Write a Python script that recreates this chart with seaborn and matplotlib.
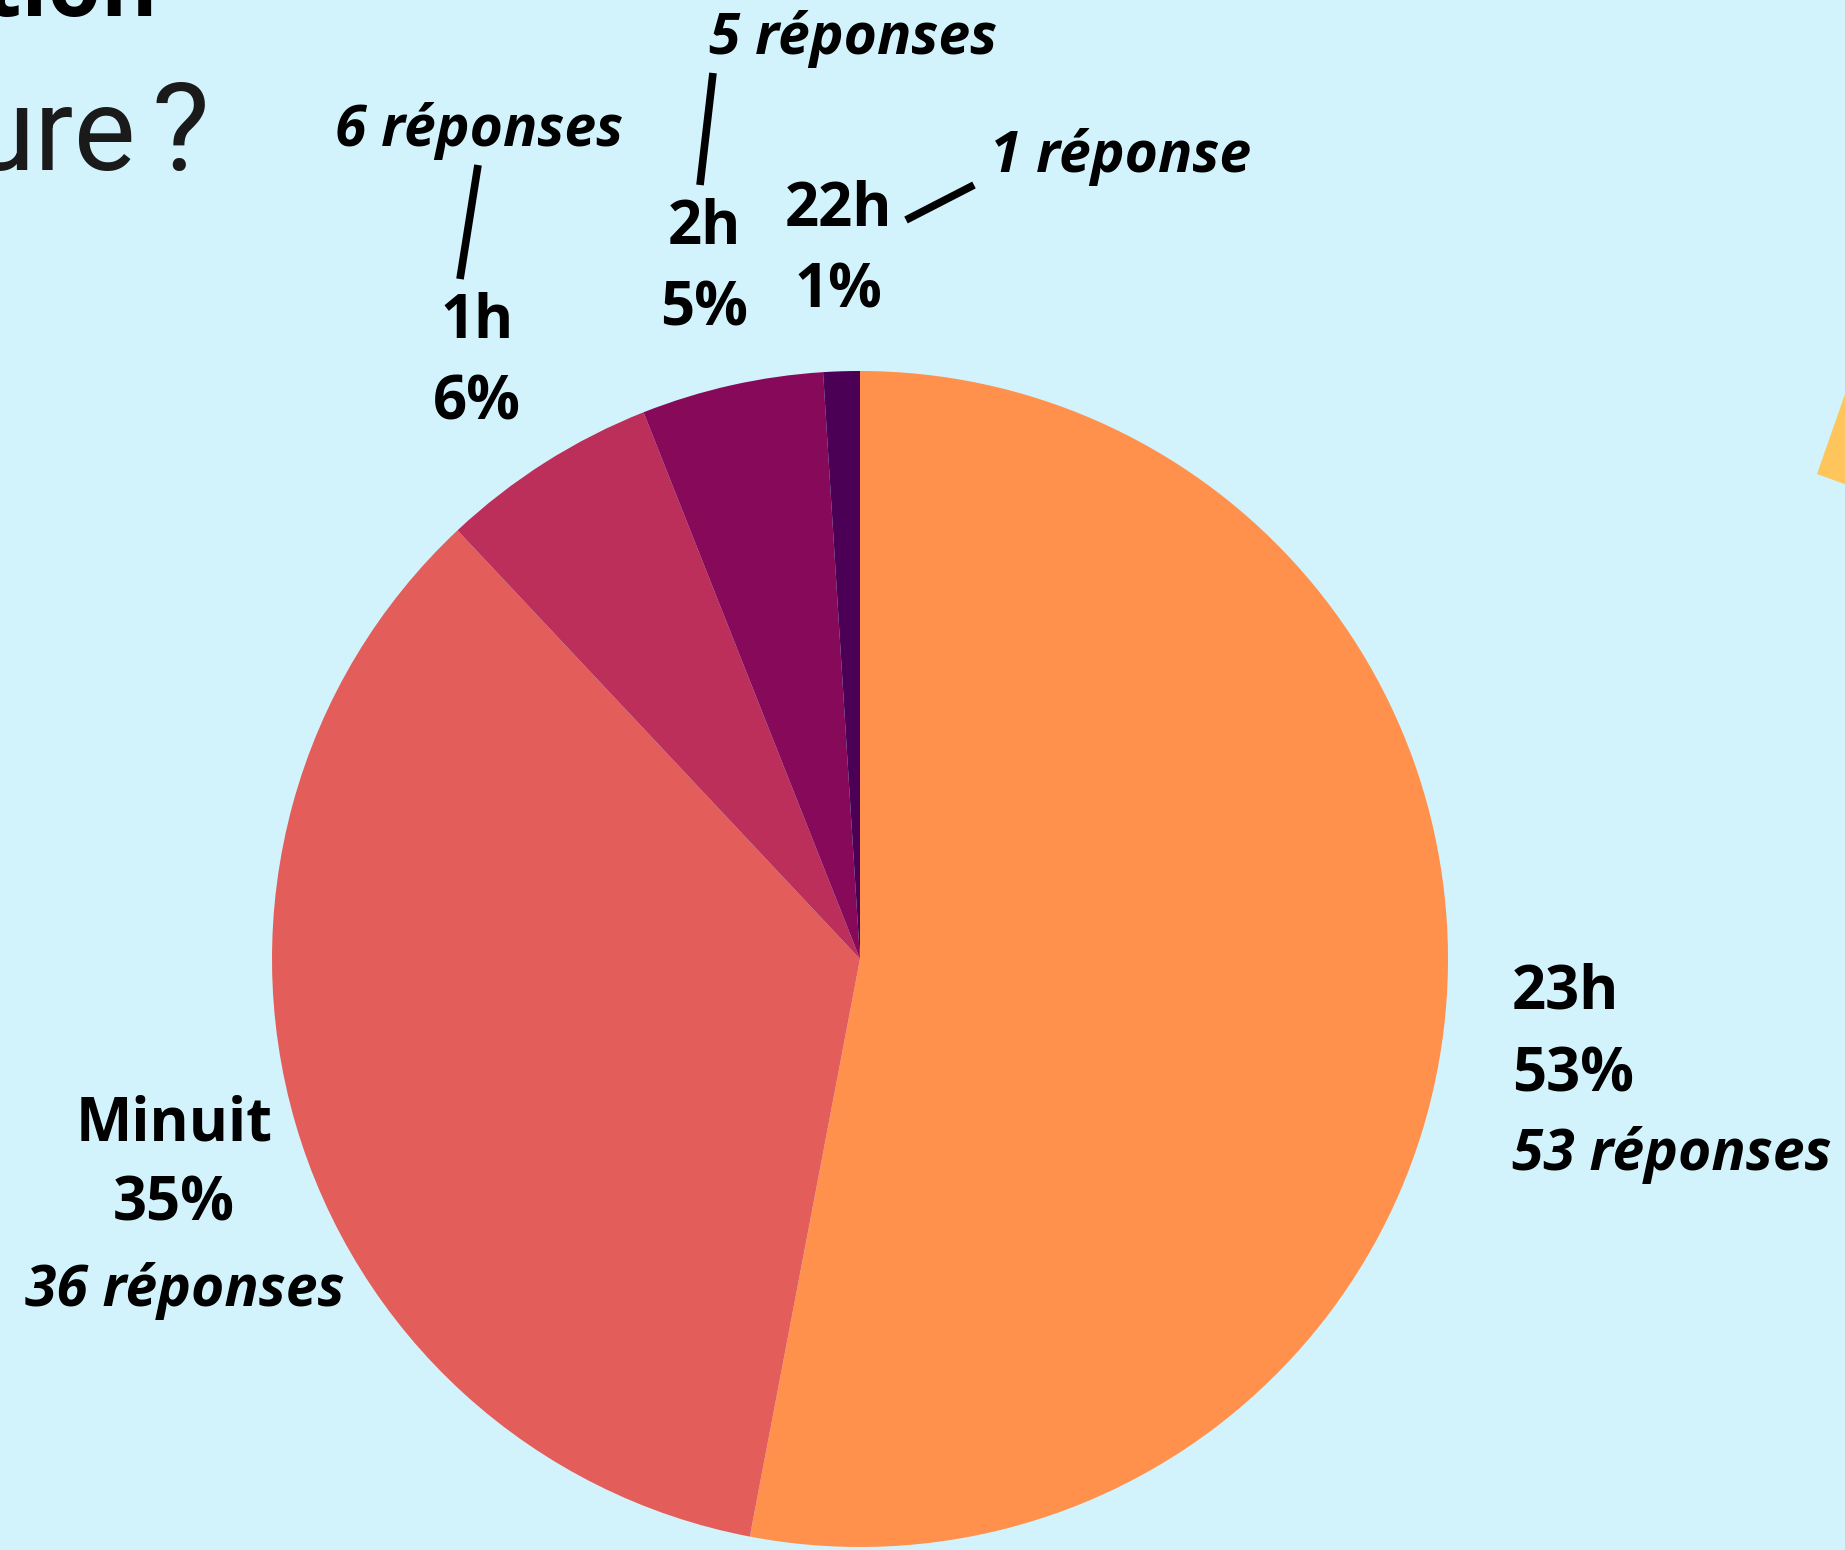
import matplotlib.pyplot as plt
import seaborn as sns
from matplotlib.patches import Polygon

# data
labels = ["23h", "Minuit", "1h", "2h", "22h"]
shares = [53, 35, 6, 5, 1]          # percent, sets the wedge sizes
responses = [53, 36, 6, 5, 1]       # answer counts shown in the labels
colors = ["#FF914D", "#E35E5A", "#BC2F5A", "#870A5A", "#4B0055"]

W, H = 1845, 1550
BG = "#D3F3FC"

sns.set_theme(style="white", rc={"figure.facecolor": BG, "axes.facecolor": BG,
                                 "text.color": "black"})
plt.rcParams['font.family'] = ['Open Sans', 'DejaVu Sans']


def top(y):
    # pixel rows are counted from the top of the picture
    return H - y


fig = plt.figure(figsize=(W / 100, H / 100), dpi=100)
ax = fig.add_axes([0, 0, 1, 1])

ax.pie(shares, colors=colors, startangle=90, counterclock=False,
       center=(860, top(959)), radius=588,
       wedgeprops={"linewidth": 0})

# pie() resets the limits, so set them afterwards
ax.set_xlim(0, W)
ax.set_ylim(0, H)
ax.set_aspect('equal')
ax.axis('off')

big = 43
small = 41


def reponses(n):
    return f"{n} réponse" if n == 1 else f"{n} réponses"


def label(x, y, txt, size, italic=False, ha='center'):
    ax.text(x, top(y), txt, fontsize=size, fontweight='bold', color='black',
            style='italic' if italic else 'normal', ha=ha, va='center')


# 23h, left aligned to the right of the pie
label(1512, 993, labels[0], big, ha='left')
label(1512, 1076, f"{shares[0]}%", big, ha='left')
label(1512, 1155, reponses(responses[0]), small, italic=True, ha='left')

# Minuit, left of the pie
label(174, 1125, labels[1], big)
label(174, 1205, f"{shares[1]}%", big)
label(185, 1291, reponses(responses[1]), small, italic=True)

# small slices with leader lines
small_layout = [
    # (name x, name y, pct y, count x, count y, line start, line end)
    (477, 322, 404, 479, 131, (478, 165), (460, 279)),
    (704, 228, 310, 853, 39, (713, 73), (700, 185)),
    (838, 210, 292, 1121, 157, (974, 185), (906, 220)),
]
for i, (nx, ny, py, cx, cy, p0, p1) in zip(range(2, 5), small_layout):
    label(nx, ny, labels[i], big)
    label(nx, py, f"{shares[i]}%", big)
    label(cx, cy, reponses(responses[i]), small, italic=True)
    ax.plot([p0[0], p1[0]], [top(p0[1]), top(p1[1])], color='black', lw=5.5,
            solid_capstyle='butt')

# pieces of the surrounding poster, cut by the frame
ax.text(136, top(170), "ure", fontsize=84, fontweight='normal', family='Roboto',
        ha='right', va='baseline', color='#1a1a1a')
ax.text(152, top(170), "?", fontsize=88, fontweight='normal', family='Roboto',
        ha='left', va='baseline', color='#1a1a1a')
ax.text(158, top(16), "tion", fontsize=62, fontweight='bold', ha='right',
        va='baseline', color='black')
ax.add_patch(Polygon([(1850, top(380)), (1817, top(474)), (1850, top(486))],
                     closed=True, facecolor='#FDC55C', edgecolor='none'))

fig.savefig("out.png", dpi=100, facecolor=BG)
plt.close(fig)
